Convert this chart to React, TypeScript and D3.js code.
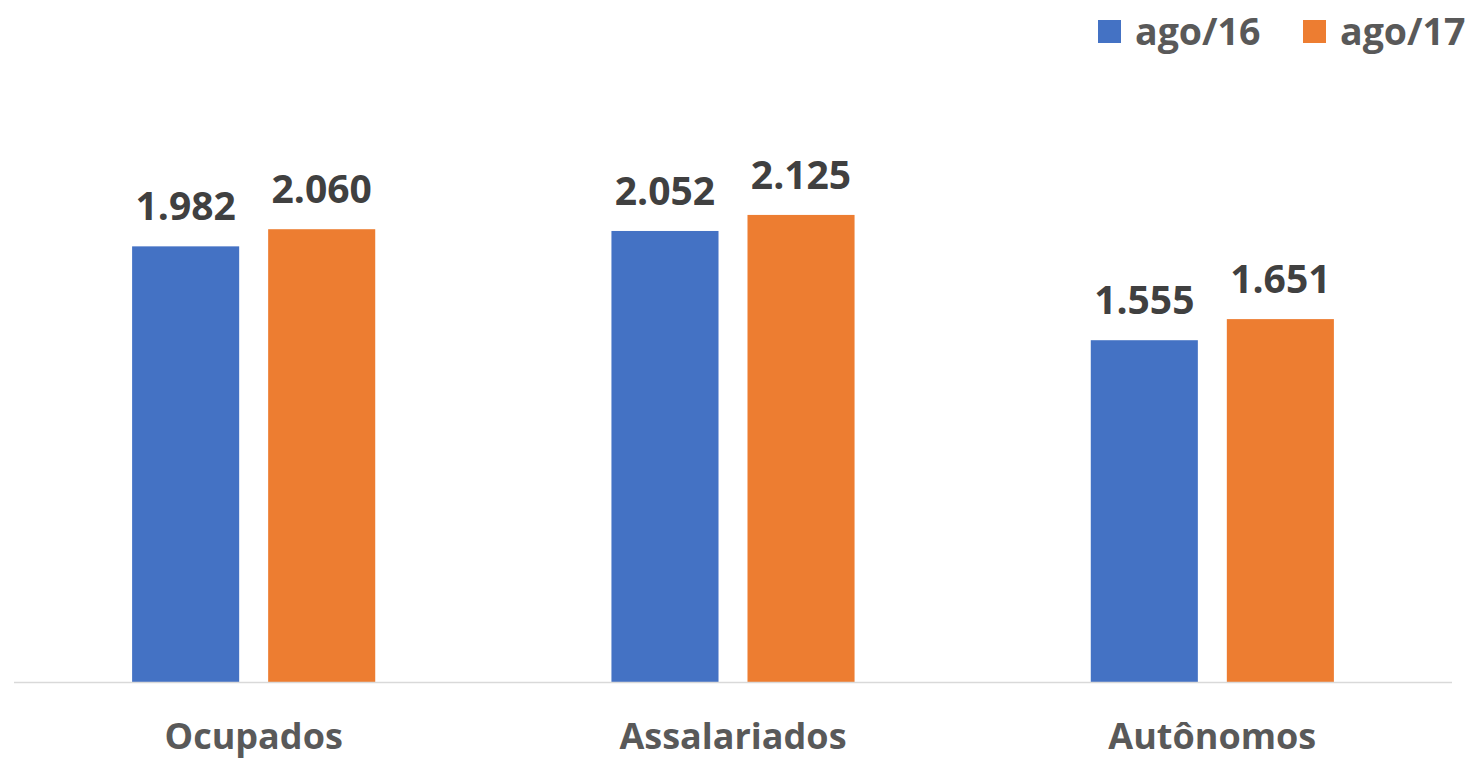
import React from "react";
import * as d3 from "d3";

const categories = ["Ocupados", "Assalariados", "Autônomos"];
const seriesNames = ["ago/16", "ago/17"];
const ago16 = [1.982, 2.052, 1.555];
const ago17 = [2.06, 2.125, 1.651];
const colors = ["#4472C4", "#ED7D31"];

const width = 1470;
const height = 760;
const margin = { left: 14, right: 18, bottom: 78, top: 130 };
const font = "'Open Sans', sans-serif";

const fmt = (v: number) => v.toFixed(3);

export default function App() {
  const baseY = height - margin.bottom;
  const x0 = d3.scaleBand<string>()
    .domain(categories)
    .range([margin.left, width - margin.right]);
  const bw = x0.bandwidth();
  const x1 = d3.scaleBand<string>()
    .domain(seriesNames)
    .range([bw * 0.2464, bw * (1 - 0.2464)])
    .paddingInner(0.213);
  const y = d3.scaleLinear().domain([0, 2.5]).range([baseY, baseY - 2.5 * 219.8]);
  const series = [ago16, ago17];

  return (
    <svg width={width} height={height} style={{ position: "absolute", left: 0, top: 0, background: "#fff" }}>
      {categories.map((c, i) => (
        <g key={c} transform={`translate(${x0(c)},0)`}>
          {seriesNames.map((s, j) => {
            const v = series[j][i];
            const bx = x1(s)!;
            return (
              <g key={s}>
                <rect x={bx} y={y(v)} width={x1.bandwidth()} height={baseY - y(v)} fill={colors[j]} />
                <text
                  x={bx + x1.bandwidth() / 2}
                  y={y(v) - 26}
                  textAnchor="middle"
                  fontFamily={font}
                  fontWeight="bold"
                  fontSize={39}
                  fill="#404040"
                >
                  {fmt(v)}
                </text>
              </g>
            );
          })}
          <text
            x={bw / 2}
            y={baseY + 67}
            textAnchor="middle"
            fontFamily={font}
            fontWeight="bold"
            fontSize={36}
            fill="#595959"
          >
            {c}
          </text>
        </g>
      ))}
      <line x1={margin.left} x2={width - margin.right} y1={baseY + 0.5} y2={baseY + 0.5} stroke="#D9D9D9" strokeWidth={1.5} />
      {seriesNames.map((s, j) => {
        const lx = j === 0 ? 1098 : 1303;
        return (
          <g key={s}>
            <rect x={lx} y={20} width={23} height={23} fill={colors[j]} />
            <text x={lx + 37} y={45} fontFamily={font} fontWeight="bold" fontSize={37.5} fill="#595959">
              {s}
            </text>
          </g>
        );
      })}
    </svg>
  );
}
